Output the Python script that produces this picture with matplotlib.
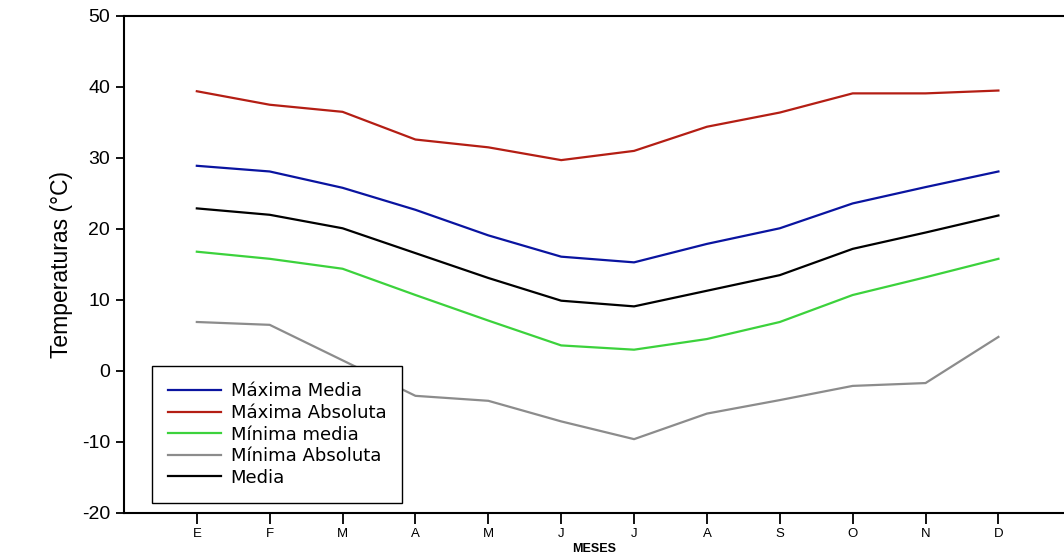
import matplotlib
matplotlib.use("Agg")
import matplotlib.pyplot as plt
from matplotlib import font_manager

months = ["E", "F", "M", "A", "M", "J", "J", "A", "S", "O", "N", "D"]
maxima_media = [28.9, 28.1, 25.8, 22.7, 19.1, 16.1, 15.3, 17.9, 20.1, 23.6, 25.9, 28.1]
maxima_absoluta = [39.4, 37.5, 36.5, 32.6, 31.5, 29.7, 31.0, 34.4, 36.4, 39.1, 39.1, 39.5]
minima_media = [16.8, 15.8, 14.4, 10.7, 7.1, 3.6, 3.0, 4.5, 6.9, 10.7, 13.2, 15.8]
minima_absoluta = [6.9, 6.5, 1.5, -3.5, -4.2, -7.1, -9.6, -6.0, -4.1, -2.1, -1.7, 4.8]
media = [22.9, 22.0, 20.1, 16.6, 13.1, 9.9, 9.1, 11.3, 13.5, 17.2, 19.5, 21.9]

installed = {f.name for f in font_manager.fontManager.ttflist}
narrow = "Liberation Sans Narrow" if "Liberation Sans Narrow" in installed else "Liberation Sans"
plt.rcParams["font.family"] = ["Liberation Sans", "DejaVu Sans"]
plt.rcParams["axes.unicode_minus"] = False

fig = plt.figure(figsize=(10.64, 5.55), dpi=100)
ax = fig.add_axes([0.1165, 0.0757, 0.8835, 0.8955])

x = list(range(1, len(months) + 1))
series = [
    ("Máxima Media", maxima_media, "#0a14a0"),
    ("Máxima Absoluta", maxima_absoluta, "#b41e14"),
    ("Mínima media", minima_media, "#3cd23c"),
    ("Mínima Absoluta", minima_absoluta, "#8c8c8c"),
    ("Media", media, "#000000"),
]
for label, vals, color in series:
    ax.plot(x, vals, color=color, lw=1.6, label=label)

ax.set_xlim(0, 12.9)
ax.set_ylim(-20, 50)
ax.set_yticks(range(-20, 51, 10))
ax.set_xticks(x)
ax.set_xticklabels(months, fontsize=9.5, family=narrow)
ax.tick_params(axis="y", labelsize=14, direction="out", length=6, width=1.3, pad=4)
ax.tick_params(axis="x", direction="out", length=8, width=1.3, pad=3)
ax.spines["right"].set_visible(False)
for s in ("left", "top", "bottom"):
    ax.spines[s].set_linewidth(1.5)

ax.set_ylabel("Temperaturas (°C)", fontsize=16.5, labelpad=6)
ax.set_xlabel("MESES", fontsize=9, family=narrow, fontweight="bold", labelpad=2)

leg = ax.legend(loc="lower left", bbox_to_anchor=(0.0298, 0.0201), borderaxespad=0,
                prop={"family": "DejaVu Sans", "size": 13},
                frameon=True, fancybox=False, edgecolor="black", framealpha=1,
                handlelength=2.9, borderpad=0.9, labelspacing=0.2,
                handletextpad=0.55)
leg.get_frame().set_linewidth(1.0)

fig.savefig("out.png", dpi=100)
